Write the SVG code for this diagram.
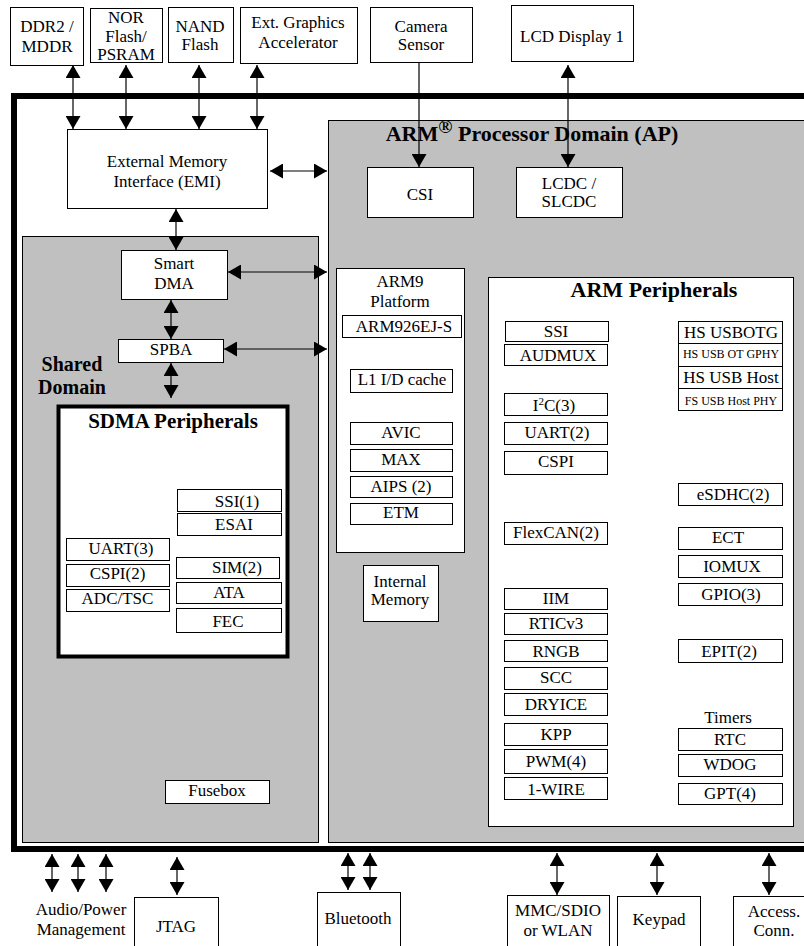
<svg xmlns="http://www.w3.org/2000/svg" width="804" height="946" viewBox="0 0 804 946">
<style>
text{font-family:"Liberation Serif","Times New Roman",serif;font-size:17px;text-anchor:middle;fill:#000}
.b{font-weight:bold}
.t{font-weight:bold;font-size:22px}
.sm{font-size:12px}
.box{fill:#fff;stroke:#000;stroke-width:1}
.dom{fill:#c0c0c0;stroke:#000;stroke-width:1}
.conn line{stroke:#000;stroke-width:1.2;fill:none}
.a2{marker-start:url(#ah);marker-end:url(#ah)}
.a1{marker-end:url(#ah)}
</style>
<defs>
<marker id="ah" markerUnits="userSpaceOnUse" viewBox="0 0 13 15" markerWidth="13" markerHeight="15" refX="13" refY="7.5" orient="auto-start-reverse">
<path d="M0,0 L13,7.5 L0,15 Z" fill="#000"/>
</marker>
</defs>
<rect width="804" height="946" fill="#fff"/>

<!-- chip outline -->
<rect id="chip" x="14" y="96" width="810" height="753" fill="none" stroke="#000" stroke-width="6"/>

<!-- domains -->
<g id="shared-domain">
<rect class="dom" x="22.5" y="236.5" width="296" height="606"/>
<text class="b" style="font-size:20px" x="72" y="371">Shared</text>
<text class="b" style="font-size:20px" x="72" y="394">Domain</text>
</g>
<g id="ap-domain">
<rect class="dom" x="328.5" y="120.5" width="490" height="722"/>
<text class="t" x="532" y="141">ARM<tspan style="font-size:19px" baseline-shift="40%">®</tspan> Processor Domain (AP)</text>
</g>

<!-- top external nodes -->
<g id="ddr"><rect class="box" x="10.5" y="7.5" width="73" height="58"/><text x="47" y="32">DDR2 /</text><text x="47" y="52">MDDR</text></g>
<g id="nor"><rect class="box" x="90.5" y="8.5" width="72" height="54"/><text x="126" y="23">NOR</text><text x="126" y="42">Flash/</text><text x="126" y="60">PSRAM</text></g>
<g id="nand"><rect class="box" x="168.5" y="7.5" width="65" height="55"/><text x="200" y="32">NAND</text><text x="200" y="50">Flash</text></g>
<g id="extgfx"><rect class="box" x="240.5" y="7.5" width="117" height="56"/><text x="298" y="28">Ext. Graphics</text><text x="298" y="48">Accelerator</text></g>
<g id="camera"><rect class="box" x="370.5" y="7.5" width="102" height="55"/><text x="421" y="32">Camera</text><text x="421" y="50">Sensor</text></g>
<g id="lcd"><rect class="box" x="511.5" y="5.5" width="122" height="56"/><text x="572" y="42">LCD Display 1</text></g>

<!-- EMI, CSI, LCDC -->
<g id="emi"><rect class="box" x="67.5" y="129.5" width="200" height="79"/><text x="167" y="167">External Memory</text><text x="167" y="187">Interface (EMI)</text></g>
<g id="csi"><rect class="box" x="367.5" y="167.5" width="106" height="50"/><text x="420" y="200">CSI</text></g>
<g id="lcdc"><rect class="box" x="516.5" y="167.5" width="106" height="50"/><text x="569" y="189">LCDC /</text><text x="569" y="207">SLCDC</text></g>

<!-- Shared domain contents -->
<g id="smartdma"><rect class="box" x="121.5" y="250.5" width="106" height="49"/><text x="174" y="269">Smart</text><text x="174" y="289">DMA</text></g>
<g id="spba"><rect class="box" x="118.5" y="339.5" width="105" height="23"/><text x="171" y="355">SPBA</text></g>
<g id="sdma-periph">
<rect x="58.5" y="406.5" width="229" height="250" fill="#fff" stroke="#000" stroke-width="4"/>
<text class="b" style="font-size:21px" x="173" y="428">SDMA Peripherals</text>
</g>
<g id="ssi1"><rect class="box" x="177.5" y="489.5" width="104" height="22"/><text x="237" y="507">SSI(1)</text></g>
<g id="esai"><rect class="box" x="177.5" y="513.5" width="104" height="22"/><text x="234" y="530">ESAI</text></g>
<g id="uart3"><rect class="box" x="66.5" y="538.5" width="103" height="22"/><text x="121" y="554">UART(3)</text></g>
<g id="cspi2"><rect class="box" x="66.5" y="564.5" width="103" height="22"/><text x="117.5" y="579">CSPI(2)</text></g>
<g id="adctsc"><rect class="box" x="66.5" y="589.5" width="103" height="22"/><text x="117.5" y="604">ADC/TSC</text></g>
<g id="sim2"><rect class="box" x="176.5" y="557.5" width="103" height="21"/><text x="237" y="573">SIM(2)</text></g>
<g id="ata"><rect class="box" x="176.5" y="582.5" width="105" height="21"/><text x="229" y="598">ATA</text></g>
<g id="fec"><rect class="box" x="176.5" y="608.5" width="105" height="24"/><text x="228" y="627">FEC</text></g>
<g id="fusebox"><rect class="box" x="165.5" y="780.5" width="104" height="23"/><text x="217" y="796">Fusebox</text></g>

<!-- ARM9 platform -->
<g id="arm9"><rect class="box" x="336.5" y="268.5" width="128" height="284"/><text x="400" y="287">ARM9</text><text x="400" y="307">Platform</text></g>
<g id="arm926"><rect class="box" x="342.5" y="315.5" width="119" height="22"/><text x="404" y="332">ARM926EJ-S</text></g>
<g id="l1"><rect class="box" x="350.5" y="369.5" width="102" height="23"/><text x="402" y="385">L1 I/D cache</text></g>
<g id="avic"><rect class="box" x="350.5" y="422.5" width="102" height="22"/><text x="401" y="438">AVIC</text></g>
<g id="max"><rect class="box" x="350.5" y="449.5" width="102" height="22"/><text x="401" y="465">MAX</text></g>
<g id="aips"><rect class="box" x="350.5" y="476.5" width="102" height="21"/><text x="401" y="492">AIPS (2)</text></g>
<g id="etm"><rect class="box" x="350.5" y="503.5" width="102" height="21"/><text x="401" y="518">ETM</text></g>
<g id="intmem"><rect class="box" x="363.5" y="565.5" width="75" height="56"/><text x="400" y="587">Internal</text><text x="400" y="605">Memory</text></g>

<!-- ARM peripherals -->
<g id="arm-periph"><rect class="box" x="488.5" y="277.5" width="305" height="549"/><text class="t" x="654" y="297">ARM Peripherals</text></g>
<g id="ssi"><rect class="box" x="505.5" y="321.5" width="103" height="20"/><text x="556" y="337">SSI</text></g>
<g id="audmux"><rect class="box" x="504.5" y="344.5" width="103" height="21"/><text x="558" y="361">AUDMUX</text></g>
<g id="i2c"><rect class="box" x="504.5" y="393.5" width="103" height="22"/><text x="554" y="411">I<tspan style="font-size:11px" baseline-shift="super">2</tspan>C(3)</text></g>
<g id="uart2"><rect class="box" x="504.5" y="422.5" width="103" height="22"/><text x="557" y="438">UART(2)</text></g>
<g id="cspi"><rect class="box" x="504.5" y="451.5" width="103" height="23"/><text x="556" y="467">CSPI</text></g>
<g id="flexcan"><rect class="box" x="504.5" y="522.5" width="103" height="22"/><text x="556" y="538">FlexCAN(2)</text></g>
<g id="iim"><rect class="box" x="504.5" y="588.5" width="103" height="21"/><text x="556" y="604">IIM</text></g>
<g id="rtic"><rect class="box" x="504.5" y="613.5" width="103" height="21"/><text x="556" y="629">RTICv3</text></g>
<g id="rngb"><rect class="box" x="504.5" y="640.5" width="103" height="21"/><text x="556" y="657">RNGB</text></g>
<g id="scc"><rect class="box" x="504.5" y="667.5" width="103" height="22"/><text x="556" y="683">SCC</text></g>
<g id="dryice"><rect class="box" x="504.5" y="693.5" width="103" height="22"/><text x="556" y="710">DRYICE</text></g>
<g id="kpp"><rect class="box" x="504.5" y="723.5" width="103" height="22"/><text x="556" y="740">KPP</text></g>
<g id="pwm"><rect class="box" x="504.5" y="749.5" width="103" height="24"/><text x="556" y="767">PWM(4)</text></g>
<g id="onewire"><rect class="box" x="504.5" y="777.5" width="103" height="22"/><text x="556" y="795">1-WIRE</text></g>

<g id="usbotg"><rect class="box" x="678.5" y="321.5" width="104" height="22"/><text x="731" y="338">HS USBOTG</text></g>
<g id="usbotgphy"><rect class="box" x="678.5" y="343.5" width="104" height="23"/><text class="sm" x="731" y="358">HS USB OT GPHY</text></g>
<g id="usbhost"><rect class="box" x="678.5" y="366.5" width="104" height="22"/><text x="731" y="383">HS USB Host</text></g>
<g id="fsusb"><rect class="box" x="678.5" y="388.5" width="104" height="22"/><text class="sm" x="731" y="405">FS USB Host PHY</text></g>
<g id="esdhc"><rect class="box" x="678.5" y="483.5" width="104" height="22"/><text x="733" y="500">eSDHC(2)</text></g>
<g id="ect"><rect class="box" x="678.5" y="527.5" width="104" height="22"/><text x="728" y="543">ECT</text></g>
<g id="iomux"><rect class="box" x="678.5" y="555.5" width="104" height="22"/><text x="732" y="572">IOMUX</text></g>
<g id="gpio"><rect class="box" x="678.5" y="583.5" width="104" height="22"/><text x="731" y="600">GPIO(3)</text></g>
<g id="epit"><rect class="box" x="678.5" y="639.5" width="104" height="23"/><text x="729" y="657">EPIT(2)</text></g>
<g id="timers"><text x="728" y="723">Timers</text></g>
<g id="rtc"><rect class="box" x="678.5" y="728.5" width="104" height="22"/><text x="730" y="745">RTC</text></g>
<g id="wdog"><rect class="box" x="678.5" y="754.5" width="104" height="22"/><text x="730" y="770">WDOG</text></g>
<g id="gpt"><rect class="box" x="678.5" y="783.5" width="104" height="21"/><text x="730" y="799">GPT(4)</text></g>

<!-- bottom external nodes -->
<g id="audio"><text x="81" y="915">Audio/Power</text><text x="81" y="935">Management</text></g>
<g id="jtag"><rect class="box" x="134.5" y="897.5" width="84" height="50"/><text x="176" y="932">JTAG</text></g>
<g id="bluetooth"><rect class="box" x="317.5" y="892.5" width="83" height="54"/><text x="358" y="924">Bluetooth</text></g>
<g id="mmc"><rect class="box" x="507.5" y="895.5" width="102" height="52"/><text x="558" y="916">MMC/SDIO</text><text x="558" y="936">or WLAN</text></g>
<g id="keypad"><rect class="box" x="617.5" y="896.5" width="83" height="50"/><text x="659" y="925">Keypad</text></g>
<g id="access"><rect class="box" x="733.5" y="896.5" width="80" height="50"/><text x="774" y="917">Access.</text><text x="774" y="936">Conn.</text></g>

<!-- connectors -->
<g class="conn">
<line class="a2" x1="73" y1="65" x2="73" y2="129"/>
<line class="a2" x1="126" y1="65" x2="126" y2="129"/>
<line class="a2" x1="199" y1="65" x2="199" y2="129"/>
<line class="a2" x1="257" y1="65" x2="257" y2="129"/>
<line class="a1" x1="419" y1="62" x2="419" y2="167"/>
<line class="a2" x1="568" y1="65" x2="568" y2="167"/>
<line class="a2" x1="270" y1="171" x2="327" y2="171"/>
<line class="a2" x1="176" y1="209" x2="176" y2="250"/>
<line class="a2" x1="228" y1="272" x2="327" y2="272"/>
<line class="a2" x1="171" y1="300" x2="171" y2="339"/>
<line class="a2" x1="224" y1="349" x2="327" y2="349"/>
<line class="a2" x1="171" y1="363" x2="171" y2="398"/>
<line class="a2" x1="52" y1="854" x2="52" y2="892"/>
<line class="a2" x1="78" y1="854" x2="78" y2="892"/>
<line class="a2" x1="106" y1="854" x2="106" y2="892"/>
<line class="a2" x1="177" y1="857" x2="177" y2="895"/>
<line class="a2" x1="348" y1="853" x2="348" y2="890"/>
<line class="a2" x1="370" y1="853" x2="370" y2="890"/>
<line class="a2" x1="557" y1="853" x2="557" y2="895"/>
<line class="a2" x1="657" y1="853" x2="657" y2="895"/>
<line class="a2" x1="769" y1="853" x2="769" y2="895"/>
</g>
</svg>
